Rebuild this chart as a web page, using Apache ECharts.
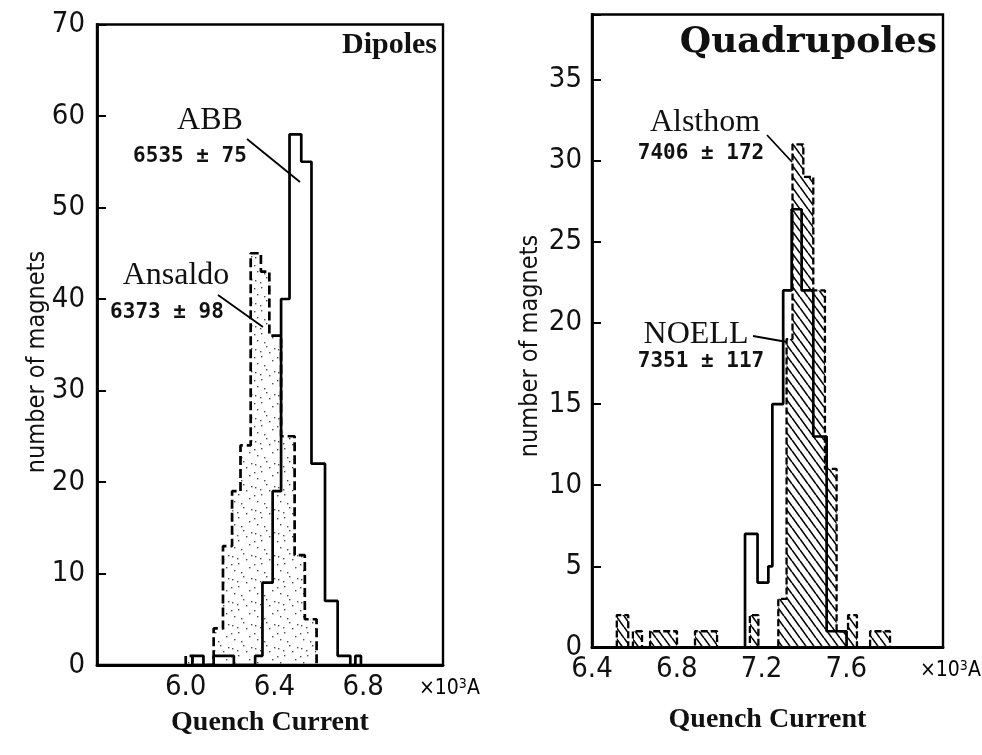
<!DOCTYPE html>
<html>
<head>
<meta charset="utf-8">
<script src="https://cdn.jsdelivr.net/npm/echarts@6/dist/echarts.min.js"></script>
<style>
html,body{margin:0;padding:0;background:#ffffff;}
#c{width:982px;height:755px;}
</style>
</head>
<body>
<div id="c"></div>
<script>
// ---------- data ----------
const dipoleXLabels = ['6.0', '6.4', '6.8'];
const quadXLabels = ['6.4', '6.8', '7.2', '7.6'];
const dipoleYLabels = ['0', '10', '20', '30', '40', '50', '60', '70'];
const quadYLabels = ['0', '5', '10', '15', '20', '25', '30', '35'];

// Dipoles (x in 10^3 A): bin edges and counts
const ansaldoEdges = [6.000, 6.030, 6.126, 6.168, 6.209, 6.247, 6.293, 6.339, 6.377, 6.430, 6.491, 6.537, 6.590];
const ansaldoCounts = [1, 0, 4, 13, 19, 24, 45, 43, 36, 25, 12, 5];
const abbEdges = [6.030, 6.080, 6.126, 6.217, 6.313, 6.346, 6.392, 6.430, 6.468, 6.521, 6.567, 6.628, 6.685, 6.742, 6.765, 6.790];
const abbCounts = [1, 0, 1, 0, 1, 9, 19, 40, 58, 55, 22, 7, 1, 0, 1];

// Quadrupoles
const noellEdges = [7.122, 7.181, 7.232, 7.251, 7.302, 7.342, 7.389, 7.444, 7.507, 7.601];
const noellCounts = [7, 4, 5, 15, 22, 27, 22, 13, 1];
const alsthomEdges = [6.517, 6.571, 6.593, 6.636, 6.674, 6.730, 6.801, 6.886, 6.938, 6.990, 7.145, 7.185, 7.279, 7.318, 7.346, 7.397, 7.444, 7.499, 7.554, 7.608, 7.650, 7.712, 7.758, 7.806];
const alsthomCounts = [2, 0, 1, 0, 1, 1, 0, 1, 1, 0, 2, 0, 3, 19, 31, 29, 22, 11, 1, 2, 0, 1, 1];

// ---------- helpers ----------
function stepData(edges, counts) {
  const d = [[edges[0], 0]];
  for (let i = 0; i < counts.length; i++) d.push([edges[i], counts[i]]);
  d.push([edges[edges.length - 1], 0]);
  return d;
}
function stipplePattern() {
  const c = document.createElement('canvas');
  c.width = 23; c.height = 23;
  const g = c.getContext('2d');
  g.fillStyle = 'rgba(0,0,0,0.7)';
  const pts = [[2,4],[13,1],[8,11],[19,15],[4,18],[16,7],[11,20],[1,12],[21,3],[7,6]];
  pts.forEach(p => g.fillRect(p[0], p[1], 1.4, 1.4));
  return c;
}
function hatchPattern() {
  const w = 8, h = 11;
  const c = document.createElement('canvas');
  c.width = w; c.height = h;
  const g = c.getContext('2d');
  g.strokeStyle = '#000';
  g.lineWidth = 1.6;
  g.beginPath();
  for (let k = -1; k <= 1; k++) {
    g.moveTo(k * w, 0);
    g.lineTo(k * w + w, h);
  }
  g.stroke();
  return c;
}

const condensed = "'Liberation Sans Narrow','DejaVu Sans Condensed','Roboto Condensed','Liberation Sans',sans-serif";
const serif = "'Liberation Serif','DejaVu Serif',serif";
const wideSerif = "'DejaVu Serif','Liberation Serif',serif";
const mono = "'DejaVu Sans Mono','Liberation Mono',monospace";

function pick(list) {
  return function (v) {
    const s = (Math.round(v * 10) / 10).toFixed(1);
    return (list.indexOf(s) >= 0 && Math.abs(v - parseFloat(s)) < 1e-6) ? s : '';
  };
}
function pickInt(list) {
  return function (v) {
    return list.indexOf(String(v)) >= 0 ? String(v) : '';
  };
}

const axisLineStyle = { color: '#000', width: 2.8 };
const tickLabel = { color: '#111', fontFamily: condensed, fontSize: 29 };
const nameStyle = { fontFamily: serif, fontWeight: 'bold', fontSize: 28, color: '#111' };

const chart = echarts.init(document.getElementById('c'), null, { renderer: 'canvas' });

const unitRich = {
  b: { fontFamily: condensed, fontSize: 21, color: '#111' },
  s: { fontFamily: condensed, fontSize: 14, color: '#111', verticalAlign: 'top', padding: [0, 0, 10, 0] }
};

const option = {
  animation: false,
  backgroundColor: '#ffffff',
  grid: [
    { left: 97, top: 24.5, right: 539, bottom: 90, show: true, borderColor: '#000', borderWidth: 2.4, backgroundColor: 'transparent' },
    { left: 592, top: 14.5, right: 39, bottom: 107.5, show: true, borderColor: '#000', borderWidth: 2.4, backgroundColor: 'transparent' }
  ],
  xAxis: [
    {
      type: 'value', gridIndex: 0, min: 5.6, max: 7.16, interval: 0.4,
      name: 'Quench Current', nameLocation: 'middle', nameGap: 44, nameTextStyle: nameStyle,
      axisLine: { show: true, onZero: false, lineStyle: axisLineStyle },
      axisTick: { show: false }, splitLine: { show: false },
      axisLabel: Object.assign({ margin: 8, formatter: pick(dipoleXLabels) }, tickLabel)
    },
    {
      type: 'value', gridIndex: 1, min: 6.4, max: 8.056, interval: 0.4,
      name: 'Quench Current', nameLocation: 'middle', nameGap: 58, nameTextStyle: nameStyle,
      axisLine: { show: true, onZero: false, lineStyle: axisLineStyle },
      axisTick: { show: false }, splitLine: { show: false },
      axisLabel: Object.assign({ margin: 7, formatter: pick(quadXLabels) }, tickLabel)
    }
  ],
  yAxis: [
    {
      type: 'value', gridIndex: 0, min: 0, max: 70, interval: 10,
      axisLine: { show: true, onZero: false, lineStyle: axisLineStyle },
      axisTick: { show: true, inside: true, length: 9, lineStyle: { color: '#000', width: 2 } },
      splitLine: { show: false },
      axisLabel: Object.assign({ margin: 12, formatter: pickInt(dipoleYLabels) }, tickLabel)
    },
    {
      type: 'value', gridIndex: 1, min: 0, max: 39, interval: 5,
      axisLine: { show: true, onZero: false, lineStyle: axisLineStyle },
      axisTick: { show: true, inside: true, length: 9, lineStyle: { color: '#000', width: 2 } },
      splitLine: { show: false },
      axisLabel: Object.assign({ margin: 10, formatter: pickInt(quadYLabels) }, tickLabel)
    }
  ],
  series: [
    {
      name: 'Ansaldo', type: 'line', xAxisIndex: 0, yAxisIndex: 0, step: 'end',
      data: stepData(ansaldoEdges, ansaldoCounts), symbol: 'none', z: 2,
      lineStyle: { color: '#000', width: 2.7, type: [9, 4] },
      areaStyle: { color: { image: stipplePattern(), repeat: 'repeat' }, opacity: 1, origin: 'start' }
    },
    {
      name: 'ABB', type: 'line', xAxisIndex: 0, yAxisIndex: 0, step: 'end',
      data: stepData(abbEdges, abbCounts), symbol: 'none', z: 3,
      lineStyle: { color: '#000', width: 2.7 }
    },
    {
      name: 'Alsthom', type: 'line', xAxisIndex: 1, yAxisIndex: 1, step: 'end',
      data: stepData(alsthomEdges, alsthomCounts), symbol: 'none', z: 2,
      lineStyle: { color: '#000', width: 2.3, type: [7, 3] },
      areaStyle: { color: { image: hatchPattern(), repeat: 'repeat' }, opacity: 1, origin: 'start' }
    },
    {
      name: 'NOELL', type: 'line', xAxisIndex: 1, yAxisIndex: 1, step: 'end',
      data: stepData(noellEdges, noellCounts), symbol: 'none', z: 3,
      lineStyle: { color: '#000', width: 2.7 }
    }
  ],
  graphic: [
    // axis titles (rotated)
    { type: 'text', x: 37, y: 362, rotation: Math.PI / 2, style: { text: 'number of magnets', font: '25px ' + condensed, fill: '#111', align: 'center', verticalAlign: 'middle' } },
    { type: 'text', x: 530, y: 346, rotation: Math.PI / 2, style: { text: 'number of magnets', font: '25px ' + condensed, fill: '#111', align: 'center', verticalAlign: 'middle' } },
    // panel titles
    { type: 'text', x: 437, y: 45, style: { text: 'Dipoles', font: 'bold 30px ' + serif, fill: '#111', align: 'right', verticalAlign: 'middle' } },
    { type: 'text', x: 937, y: 43, style: { text: 'Quadrupoles', font: 'bold 36px ' + wideSerif, fill: '#111', align: 'right', verticalAlign: 'middle' } },
    // x unit labels
    { type: 'text', x: 419, y: 689, style: { text: '{b|×10}{s|3}{b|A}', rich: unitRich, align: 'left', verticalAlign: 'middle' } },
    { type: 'text', x: 920, y: 671, style: { text: '{b|×10}{s|3}{b|A}', rich: unitRich, align: 'left', verticalAlign: 'middle' } },
    // Dipole annotations
    { type: 'text', x: 210, y: 121, style: { text: 'ABB', font: '32px ' + serif, fill: '#111', align: 'center', verticalAlign: 'middle' } },
    { type: 'text', x: 190, y: 157, style: { text: '6535 ± 75', font: 'bold 21px ' + mono, fill: '#111', align: 'center', verticalAlign: 'middle' } },
    { type: 'line', shape: { x1: 247, y1: 139, x2: 300, y2: 182 }, style: { stroke: '#000', lineWidth: 1.8 } },
    { type: 'text', x: 176, y: 276, style: { text: 'Ansaldo', font: '32px ' + serif, fill: '#111', align: 'center', verticalAlign: 'middle' } },
    { type: 'text', x: 167, y: 313, style: { text: '6373 ± 98', font: 'bold 21px ' + mono, fill: '#111', align: 'center', verticalAlign: 'middle' } },
    { type: 'line', shape: { x1: 218, y1: 295, x2: 263, y2: 327 }, style: { stroke: '#000', lineWidth: 1.8 } },
    // Quadrupole annotations
    { type: 'text', x: 705, y: 123, style: { text: 'Alsthom', font: '32px ' + serif, fill: '#111', align: 'center', verticalAlign: 'middle' } },
    { type: 'text', x: 701, y: 154, style: { text: '7406 ± 172', font: 'bold 21px ' + mono, fill: '#111', align: 'center', verticalAlign: 'middle' } },
    { type: 'line', shape: { x1: 767, y1: 135, x2: 792, y2: 162 }, style: { stroke: '#000', lineWidth: 1.8 } },
    { type: 'text', x: 696, y: 335, style: { text: 'NOELL', font: '32px ' + serif, fill: '#111', align: 'center', verticalAlign: 'middle' } },
    { type: 'text', x: 701, y: 362, style: { text: '7351 ± 117', font: 'bold 21px ' + mono, fill: '#111', align: 'center', verticalAlign: 'middle' } },
    { type: 'line', shape: { x1: 753, y1: 336, x2: 787, y2: 342 }, style: { stroke: '#000', lineWidth: 1.8 } }
  ]
};

chart.setOption(option);
</script>
</body>
</html>
